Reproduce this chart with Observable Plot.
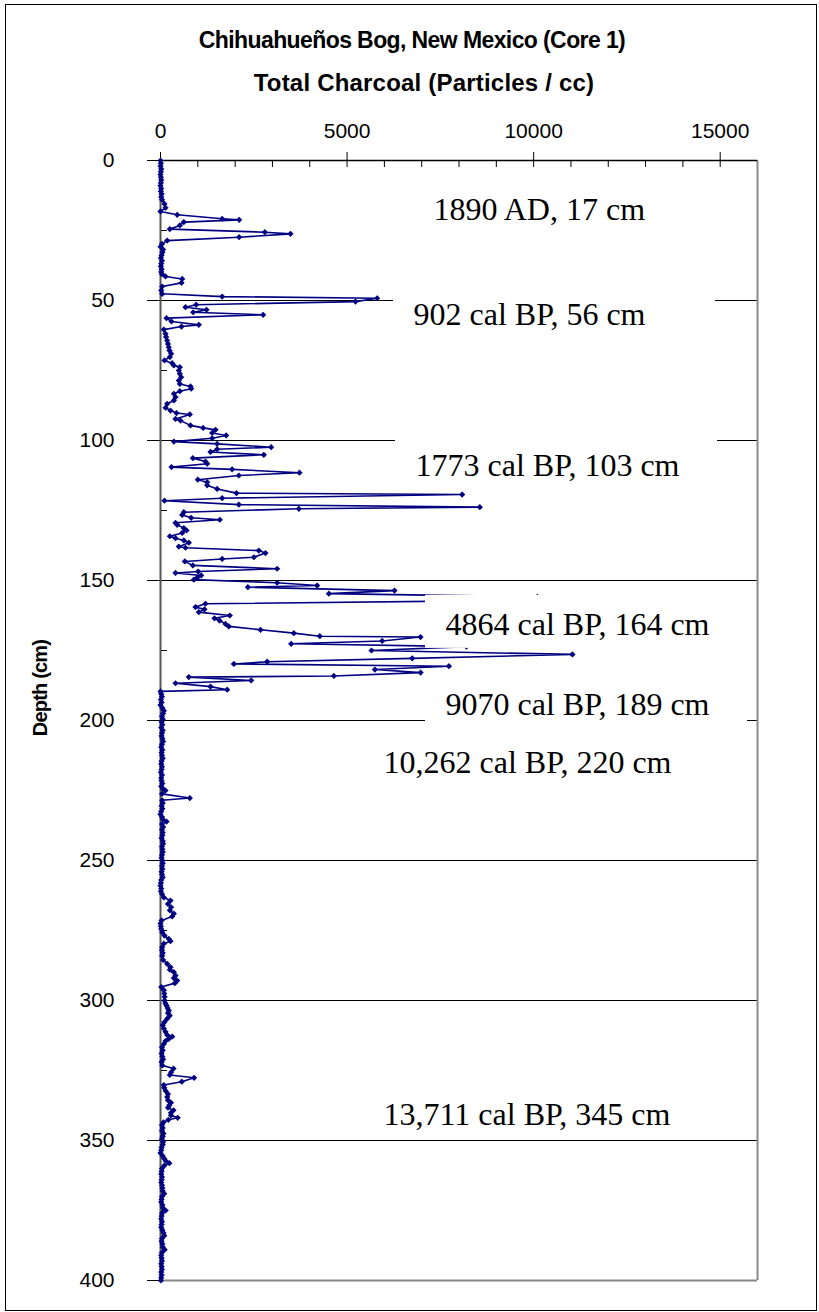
<!DOCTYPE html>
<html><head><meta charset="utf-8">
<script src="https://cdn.jsdelivr.net/npm/d3@7"></script>
<script src="https://cdn.jsdelivr.net/npm/@observablehq/plot@0.6"></script>
<style>
html,body{margin:0;padding:0;background:#fff;overflow:hidden}
#wrap{position:relative;width:819px;height:1312px}
#chart{position:absolute;left:0;top:0}
#border{position:absolute;left:5px;top:4px;width:812px;height:1307px;border:1px solid #000;box-sizing:border-box;pointer-events:none}
.ttl{position:absolute;text-align:center;font-family:"Liberation Sans",Arial,sans-serif;font-weight:bold;line-height:24px;color:#000;white-space:nowrap}
#ylab{position:absolute;left:-60px;top:678px;width:200px;height:20px;line-height:20px;text-align:center;transform:rotate(-90deg);font-family:"Liberation Sans",Arial,sans-serif;font-weight:bold;font-size:20px;letter-spacing:-0.8px;color:#000;white-space:nowrap}
</style></head><body>
<div id="wrap">
  <div id="chart"></div>
  <div class="ttl" id="t1" style="left:0;width:824px;top:28px;font-size:23px;letter-spacing:-0.6px"></div>
  <div class="ttl" id="t2" style="left:0;width:848px;top:71px;font-size:24px;letter-spacing:0.2px"></div>
  <div id="ylab"></div>
  <div id="border"></div>
</div>
<script>
const titleText = "Chihuahueños Bog, New Mexico (Core 1)";
const subtitleText = "Total Charcoal (Particles / cc)";
const yLabelText = "Depth (cm)";

const xTickLabels = [0, 5000, 10000, 15000];
const xMinorTicks = [1000,2000,3000,4000,6000,7000,8000,9000,11000,12000,13000,14000];
const depthTicks = [0, 50, 100, 150, 200, 250, 300, 350, 400];
const gridDepths = [50, 100, 150, 200, 250, 300, 350];
const minorDepths = [25, 75, 125, 175, 225, 275, 325, 375];

const depthCm = [
0,1,2,3,4,5,6,7,8,9,10,11,12,13,14,
15.5,16.9,18.2,19.4,20.8,21.2,22,23.2,24.5,25.6,26.2,27.4,28.6,29.8,30.8,31.8,32.8,33.8,34.8,35.8,36.8,37.8,38.8,39.8,40.6,
41.4,42.3,43.7,45,46.4,47.6,48.6,49.2,50.4,51.5,52.4,53.3,54.2,55.1,56.3,57.5,58.7,59.3,60.4,
61.9,63,64.3,65.5,66.7,67.9,69,70.2,71.4,72.4,73.2,73.8,75,76.2,77.4,78.6,79.8,80.7,81.5,82.4,83.3,84.5,85.7,86.9,88.3,89.3,90.2,90.7,92.3,92.9,94.6,95.5,96.2,97.3,98.2,99.2,100.4,
101.2,102.4,103.1,104.1,105.1,106.3,107.5,108.3,109.5,110.3,111.5,112.5,114,114.9,116,117.3,118.8,119.3,120.6,121.5,122.9,123.8,124.4,125.6,126.6,127.6,128.3,129.4,130.1,131.3,132.1,133,134.2,134.9,135.7,136.5,137.9,138.3,139.3,140.2,141.7,142.3,143.2,144.6,145.8,146.8,147.3,148.2,149,149.7,
150.8,151.8,152.4,153.6,154.7,155.8,157.2,158.3,159.5,160.3,161.3,162.5,163.5,164.3,165.5,166.4,167.6,168.8,169.9,170.2,171.6,172.6,173.6,175,176.4,177.8,179,179.8,180.6,181.8,182.9,184.1,184.5,185.7,186.7,187.9,189,189.6,
190.5,191.5,192.5,193.5,194.5,195.5,196.5,197.5,198.5,199.5,200.5,201.5,202.5,203.5,204.5,205.5,206.5,207.5,208.5,209.5,210.5,211.5,212.5,213.5,214.5,215.5,216.5,217.5,218.5,219.5,220.5,221.5,222.5,223.5,224.3,225,226.2,227.7,228.5,229.5,230.5,231.5,232.5,233.5,234.5,235.3,236.1,
237,238,239,240,241,242,243,244,245,246,247,248,249,250,251,252,253,254,255,256,257,258,259,260,261,262,263.2,264.3,265.5,266.7,267.8,269,270,271.4,272.5,273.5,274.5,275.6,276.8,278,278.8,279.7,281,282,283,284,285.5,286.9,288.1,289,289.9,291.1,292,292.9,293.8,295.2,296.3,297.5,298.7,300,
301,301.8,302.7,303.6,304.5,305.4,306.5,307.7,308.8,310,311.2,312.3,312.9,313.7,314.5,315.5,316.7,317.8,318.9,320,321,322,323.2,324.3,325.6,326.6,327.6,329,330.2,331.2,332.3,333.4,334.5,335.6,336.5,337.4,338.3,339.2,340.1,341,341.9,342.6,343.5,344.5,345.5,346.5,347.5,348.5,349.5,
350.5,351.5,352.5,353.5,354.5,355.5,356.5,357.3,358.1,359,360,361,362,363,364,365,366,367,368,369,370,371,372,373,374,375,376,377,378,379,380,381,382,383,384,385,386,387,388,389,390,391,392,393,394,395,396,397,398,399,400
];

const charcoal = [
0,10,0,20,10,0,10,20,10,0,20,10,30,20,40,
107,134,0,447,1653,2108,625,518,250,2796,3484,2108,179,40,0,70,50,30,10,40,20,10,30,20,40,
134,581,563,45,18,45,1653,5807,5226,956,670,1233,876,2751,161,295,1027,563,89,
134,150,179,200,220,241,286,250,107,313,358,518,491,518,554,491,518,804,822,518,358,402,358,179,134,268,429,786,402,536,804,1143,1474,1385,1760,1385,358,
1518,2966,1518,1340,2769,867,1206,1251,295,1920,3725,2100,1000,1251,1251,1518,2037,8085,1653,107,2100,8558,3707,625,581,822,1590,402,447,625,697,581,250,402,625,759,491,670,2635,2814,2502,1653,652,867,3126,1010,402,1090,983,893,
3126,4199,2341,6271,4512,10100,9000,1206,938,1179,1027,1858,1447,1581,1742,1831,2680,3573,4270,6968,5941,3502,8200,5655,11040,6747,2859,1966,7730,5746,6971,4647,759,2431,402,1340,1788,0,
20,40,10,30,0,50,90,70,40,60,30,50,20,60,40,30,50,70,40,20,50,30,40,60,30,20,40,30,10,40,20,30,50,20,60,134,40,786,45,60,30,50,20,0,40,60,161,
40,70,40,60,50,30,60,70,40,50,60,40,30,50,60,40,50,30,40,60,20,10,0,20,10,40,90,268,200,286,250,358,313,30,0,10,20,45,107,223,268,89,45,40,60,45,70,179,268,250,358,402,358,447,384,20,90,100,110,110,
130,161,190,223,200,250,180,107,60,90,134,179,313,223,134,90,40,60,30,50,70,30,50,349,286,250,900,570,89,100,140,200,180,200,280,237,200,349,280,279,461,210,80,40,60,40,80,60,40,
70,60,30,20,0,60,100,140,237,100,40,30,20,40,30,20,40,50,60,100,40,30,20,50,60,140,40,30,20,40,30,20,50,80,100,40,30,50,60,112,40,20,30,40,20,30,40,20,30,20,10
];

const labelText = ["1890 AD, 17 cm","902 cal BP, 56 cm","1773 cal BP, 103 cm","4864 cal BP, 164 cm","9070 cal BP, 189 cm","10,262 cal BP, 220 cm","13,711 cal BP, 345 cm"];
const labelValue = [7317, 6781, 6834, 7638, 7638, 5977, 5977];
const labelDepth = [21.1, 58.9, 112.5, 169.6, 198.2, 218.6, 344.6];

document.getElementById("t1").textContent = titleText;
document.getElementById("t2").textContent = subtitleText;
document.getElementById("ylab").textContent = yLabelText;

const data = depthCm.map((d, i) => ({depth: d, value: charcoal[i]}));
const labels = labelText.map((t, i) => ({text: t, value: labelValue[i], depth: labelDepth[i]}));

const W = 819, H = 1312, mt = 160, ml = 160, mr = 62, mb = 32;
const frameW = W - ml - mr, frameH = H - mt - mb;
const xMax = 16000, yMax = 400;
const ux = xMax / frameW, uy = yMax / frameH;

const chart = Plot.plot({
  width: W, height: H,
  marginTop: mt, marginLeft: ml, marginRight: mr, marginBottom: mb,
  x: {domain: [0, xMax]},
  y: {domain: [0, yMax], reverse: true},
  style: {fontFamily: "'Liberation Sans', Arial, sans-serif", fontSize: "21px", color: "#000", background: "transparent", overflow: "visible"},
  marks: [
    Plot.tickY(gridDepths, {y: d => d, stroke: "#000", strokeWidth: 1, insetLeft: -13}),
    Plot.tickY([0, 400], {y: d => d, stroke: "#000", strokeWidth: 1, insetLeft: -13, insetRight: frameW}),
    Plot.tickY(minorDepths, {y: d => d, stroke: "#000", strokeWidth: 1, insetRight: frameW - 7}),
    Plot.tickX(xMinorTicks, {x: d => d, stroke: "#000", strokeWidth: 1, insetBottom: frameH - 7}),
    Plot.tickX(xTickLabels, {x: d => d, stroke: "#000", strokeWidth: 1, insetTop: -8, insetBottom: frameH - 7}),
    Plot.ruleX([xMax], {stroke: "#888", strokeWidth: 2}),
    Plot.ruleY([yMax], {stroke: "#888", strokeWidth: 2}),
    Plot.ruleY([0], {stroke: "#000", strokeWidth: 1.5}),
    Plot.ruleX([0], {stroke: "#555", strokeWidth: 2}),
    Plot.axisX({anchor: "top", ticks: xTickLabels, tickSize: 0, tickPadding: 23, tickFormat: d => String(d), label: null, fontSize: 21}),
    Plot.axisY({anchor: "left", ticks: depthTicks, tickSize: 0, tickPadding: 46, tickFormat: d => String(d), label: null, fontSize: 21}),
    Plot.line(data, {x: "value", y: "depth", stroke: "#000080", strokeWidth: 1.6}),
    Plot.dot(data, {x: "value", y: "depth", symbol: "diamond2", r: 2.8, fill: "#000080", stroke: null}),
    Plot.rect(labels, {x1: d => d.value - 20 * ux, x2: d => d.value + 302 * ux, y1: d => d.depth - 40 * uy, y2: d => d.depth + 13 * uy, fill: "white"}),
    Plot.text(labels, {x: "value", y: "depth", text: "text", textAnchor: "start", lineAnchor: "bottom", fontFamily: "'Liberation Serif', 'Times New Roman', serif", fontSize: 32, fill: "#000"})
  ]
});
document.getElementById("chart").appendChild(chart);
</script>
</body></html>
